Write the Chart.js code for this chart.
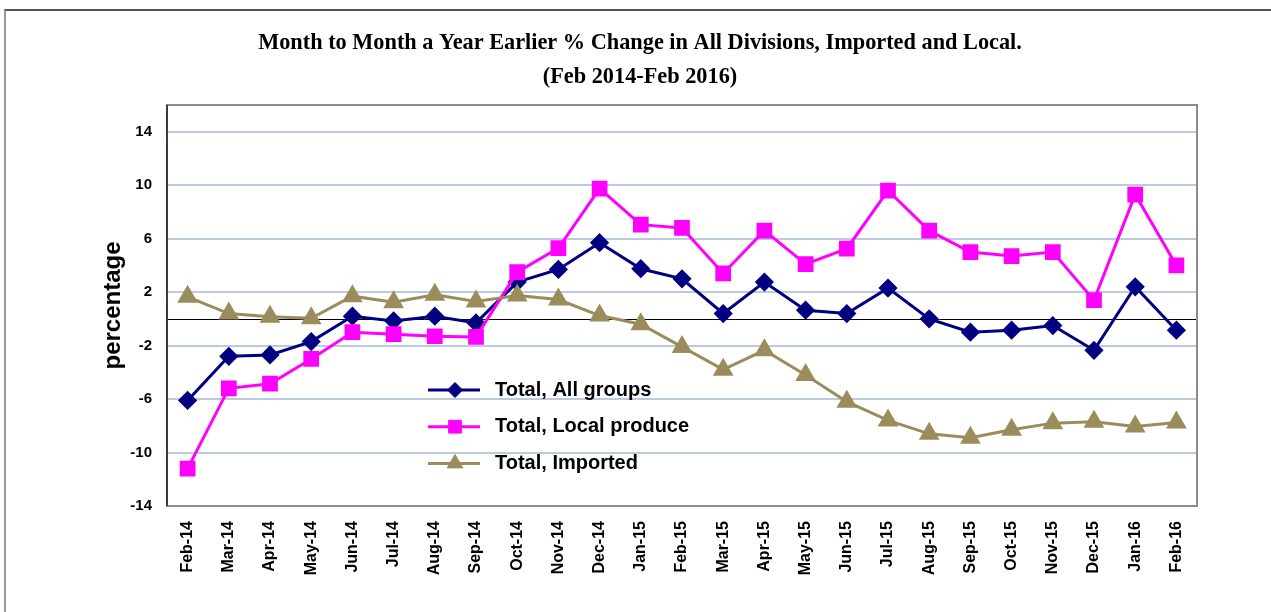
<!DOCTYPE html>
<html>
<head>
<meta charset="utf-8">
<title>Month to Month a Year Earlier % Change</title>
<script src="https://cdn.jsdelivr.net/npm/chart.js"></script>
<style>
  html, body { margin: 0; padding: 0; background: #fff; overflow: hidden; }
  #frame { position: absolute; left: 4px; top: 9px; width: 1400px; height: 800px; border-top: 2px solid #555; border-left: 2px solid #999; }
  #wrap { position: absolute; left: 0; top: 0; width: 1271px; height: 612px; }
</style>
</head>
<body>
<div id="frame"></div>
<div id="wrap"><canvas id="chart" width="1271" height="612"></canvas></div>
<script>
const months = ['Feb-14', 'Mar-14', 'Apr-14', 'May-14', 'Jun-14', 'Jul-14', 'Aug-14', 'Sep-14', 'Oct-14', 'Nov-14', 'Dec-14', 'Jan-15',
    'Feb-15', 'Mar-15', 'Apr-15', 'May-15', 'Jun-15', 'Jul-15', 'Aug-15', 'Sep-15', 'Oct-15', 'Nov-15', 'Dec-15', 'Jan-16', 'Feb-16'];

const allGroups = [-6.1, -2.8, -2.7, -1.7, 0.2, -0.15, 0.2, -0.3, 2.75, 3.7, 5.7, 3.75,
    3.0, 0.4, 2.75, 0.65, 0.4, 2.3, 0.0, -1.0, -0.85, -0.5, -2.35, 2.4, -0.85];
const localProduce = [-11.2, -5.2, -4.85, -3.0, -1.0, -1.15, -1.3, -1.35, 3.5, 5.3, 9.75, 7.05,
    6.8, 3.4, 6.6, 4.1, 5.25, 9.6, 6.6, 5.0, 4.7, 5.0, 1.4, 9.3, 4.0];
const imported = [1.65, 0.4, 0.15, 0.05, 1.7, 1.25, 1.8, 1.3, 1.75, 1.45, 0.25, -0.4,
    -2.1, -3.8, -2.35, -4.2, -6.2, -7.6, -8.6, -8.9, -8.3, -7.8, -7.7, -8.05, -7.75];

const yTicks = [-14, -10, -6, -2, 2, 6, 10, 14];
const yMin = -14;
const yMax = 16;

const sans = '"Liberation Sans", Arial, sans-serif';

// black zero line and the plot frame
const plotFrame = {
    id: 'plotFrame',
    beforeDatasetsDraw(chart) {
        const { ctx, chartArea: a, scales: { y } } = chart;
        ctx.save();
        const y0 = Math.round(y.getPixelForValue(0)) + 0.5;
        ctx.strokeStyle = '#000';
        ctx.lineWidth = 1;
        ctx.beginPath();
        ctx.moveTo(a.left, y0);
        ctx.lineTo(a.right, y0);
        ctx.stroke();

        ctx.strokeStyle = '#8c8c8c';
        ctx.lineWidth = 2;
        ctx.strokeRect(a.left, a.top, a.right - a.left, a.bottom - a.top);
        ctx.strokeStyle = '#222';
        ctx.lineWidth = 1.5;
        ctx.beginPath();
        ctx.moveTo(a.left, a.top);
        ctx.lineTo(a.left, a.bottom);
        ctx.stroke();
        ctx.restore();
    }
};

// legend sits inside the plot, like the original
const innerLegend = {
    id: 'innerLegend',
    afterDatasetsDraw(chart) {
        const { ctx, chartArea: a } = chart;
        const x0 = a.left + 261;
        const top = a.top + 285;
        ctx.save();
        chart.data.datasets.forEach((ds, i) => {
            const yy = top + i * 36.7;
            ctx.strokeStyle = ds.borderColor;
            ctx.lineWidth = 3;
            ctx.beginPath();
            ctx.moveTo(x0, yy);
            ctx.lineTo(x0 + 52, yy);
            ctx.stroke();
            ctx.fillStyle = ds.pointBackgroundColor;
            ctx.strokeStyle = ds.borderColor;
            ctx.lineWidth = 1;
            Chart.helpers.drawPoint(ctx, { pointStyle: ds.pointStyle, radius: ds.pointRadius, rotation: 0, borderWidth: 1 }, x0 + 27, yy);
            ctx.fillStyle = '#000';
            ctx.font = 'bold 20px ' + sans;
            ctx.textAlign = 'left';
            ctx.textBaseline = 'middle';
            ctx.fillText(ds.label, x0 + 67, yy);
        });
        ctx.restore();
    }
};

new Chart(document.getElementById('chart'), {
    type: 'line',
    data: {
        labels: months,
        datasets: [{
            label: 'Total, All groups',
            data: allGroups,
            borderColor: '#000080',
            backgroundColor: '#000080',
            pointBackgroundColor: '#000080',
            pointBorderColor: '#000080',
            pointStyle: 'rectRot',
            pointRadius: 7.5,
            borderWidth: 3,
            order: 3
        }, {
            label: 'Total, Local produce',
            data: localProduce,
            borderColor: '#ff00ff',
            backgroundColor: '#ff00ff',
            pointBackgroundColor: '#ff00ff',
            pointBorderColor: '#ff00ff',
            pointStyle: 'rect',
            pointRadius: 9,
            borderWidth: 3,
            order: 2
        }, {
            label: 'Total, Imported',
            data: imported,
            borderColor: '#9b8d5b',
            backgroundColor: '#9b8d5b',
            pointBackgroundColor: '#9b8d5b',
            pointBorderColor: '#9b8d5b',
            pointStyle: 'triangle',
            pointRadius: 9,
            borderWidth: 3,
            order: 1
        }]
    },
    options: {
        responsive: false,
        animation: false,
        layout: { padding: { left: 83, right: 74, top: 0, bottom: 0 } },
        plugins: {
            legend: { display: false },
            tooltip: { enabled: false },
            title: {
                display: true,
                text: ['Month to Month a Year Earlier % Change in All Divisions, Imported and Local.', '(Feb 2014-Feb 2016)'],
                color: '#000',
                font: { family: '"Liberation Serif", "Times New Roman", serif', size: 22.3, weight: 'bold', lineHeight: 34 / 22.3 },
                padding: { top: 26, bottom: 11 }
            }
        },
        scales: {
            x: {
                offset: true,
                grid: { display: false },
                border: { display: false },
                ticks: {
                    autoSkip: false,
                    minRotation: 90,
                    maxRotation: 90,
                    padding: 7,
                    color: '#000',
                    font: { family: sans, size: 16, weight: 'bold' }
                },
                afterFit(s) { s.height = 106; }
            },
            y: {
                min: yMin,
                max: yMax,
                afterBuildTicks(s) { s.ticks = yTicks.map(v => ({ value: v })); },
                grid: { color: '#bccadf', lineWidth: 2, drawTicks: false },
                border: { display: false },
                ticks: {
                    padding: 15,
                    color: '#000',
                    font: { family: sans, size: 15, weight: 'bold' }
                },
                title: {
                    display: true,
                    text: 'percentage',
                    color: '#000',
                    font: { family: sans, size: 24, weight: 'bold' },
                    padding: { top: 16, bottom: 0 }
                },
                afterFit(s) { s.width = 84; }
            }
        }
    },
    plugins: [plotFrame, innerLegend]
});
</script>
</body>
</html>
